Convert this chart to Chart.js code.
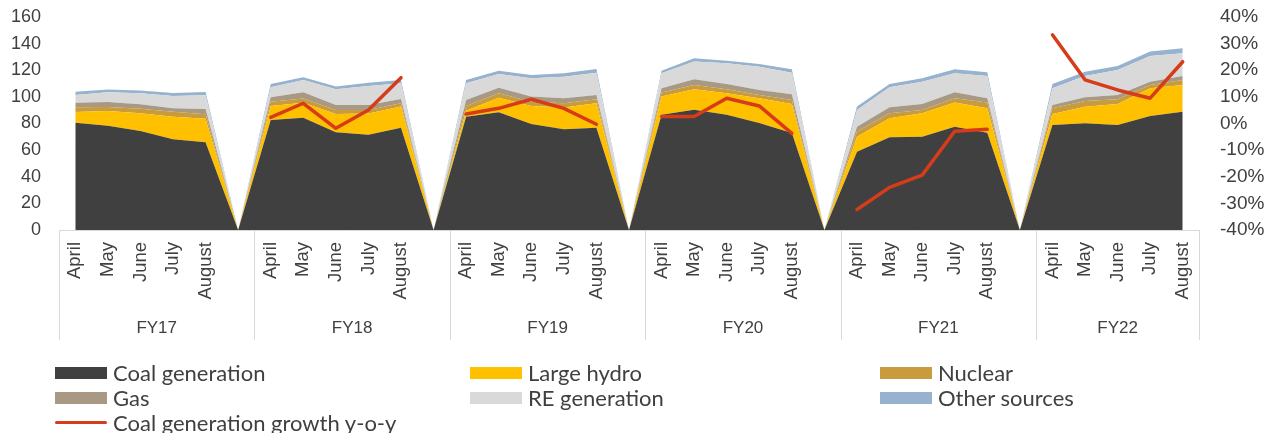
<!DOCTYPE html>
<html>
<head>
<meta charset="utf-8">
<script src="https://cdn.jsdelivr.net/npm/chart.js@4/dist/chart.umd.min.js"></script>
<style>
  html, body { margin: 0; padding: 0; background: #ffffff; }
  #wrap { position: relative; width: 1280px; height: 433px; overflow: hidden; }
  #chart { position: absolute; left: 0; top: 0; }
  #legend {
    position: absolute; left: 0; top: 0; width: 1280px; height: 433px;
    font-family: Lato, "Liberation Sans", sans-serif; font-size: 22px; color: #404040;
  }
  .item { position: absolute; display: flex; align-items: center; height: 25px; white-space: nowrap; }
  .sw { width: 52px; height: 12px; margin-right: 6px; flex: none; }
  .ln { width: 52px; height: 3px; border-radius: 2px; margin-right: 6px; flex: none; }
</style>
</head>
<body>
<div id="wrap">
  <canvas id="chart" width="1280" height="433"></canvas>
  <div id="legend"></div>
</div>
<script>
// Fiscal years and the months shown for each of them
const fiscalYears = ['FY17', 'FY18', 'FY19', 'FY20', 'FY21', 'FY22'];
const months = ['April', 'May', 'June', 'July', 'August'];

// Monthly generation by source (TWh), April–August of each fiscal year
const coal = [
  80.5, 78.3, 74.4, 68.2, 65.9,
  82.6, 84.4, 73.4, 71.6, 76.9,
  85.1, 88.4, 79.6, 75.6, 76.9,
  86.6, 90.4, 86.6, 80.3, 72.8,
  58.8, 69.6, 70.1, 77.6, 73.1,
  78.9, 80.2, 78.9, 85.6, 88.9
];
const hydro = [
  8.2, 11.1, 13.3, 16.9, 17.7,
  10.6, 11.1, 13.7, 16.0, 15.8,
  4.5, 11.0, 13.6, 16.5, 18.3,
  13.6, 15.3, 16.1, 18.6, 21.8,
  11.3, 14.3, 17.6, 18.1, 18.3,
  8.3, 12.4, 15.8, 20.8, 20.0
];
const nuclear = [
  3.5, 3.0, 3.4, 3.8, 3.3,
  3.2, 3.2, 3.0, 2.5, 2.5,
  3.6, 3.3, 3.2, 3.1, 3.0,
  3.0, 3.3, 3.0, 2.5, 3.1,
  3.8, 3.8, 2.5, 3.2, 4.3,
  4.2, 4.3, 3.5, 2.5, 3.8
];
const gas = [
  3.4, 3.8, 3.3, 2.5, 4.0,
  3.3, 4.7, 3.8, 3.8, 3.2,
  4.5, 4.2, 3.8, 3.7, 3.2,
  3.2, 4.2, 4.0, 3.8, 4.2,
  3.7, 4.5, 4.5, 4.5, 3.2,
  2.5, 2.8, 3.2, 2.5, 3.0
];
const reGeneration = [
  5.8, 7.2, 8.3, 9.3, 10.3,
  7.5, 9.3, 11.8, 14.3, 11.8,
  12.5, 10.3, 13.8, 16.3, 16.8,
  11.3, 13.3, 15.5, 17.5, 16.3,
  12.6, 15.0, 16.7, 14.3, 16.8,
  12.5, 16.0, 18.8, 19.3, 17.1
];
const otherSources = [
  2.4, 2.2, 2.0, 2.3, 2.5,
  2.5, 2.0, 2.0, 2.5, 2.5,
  2.5, 2.5, 2.5, 2.5, 2.7,
  2.0, 2.5, 2.0, 2.0, 2.5,
  2.5, 2.5, 2.6, 3.0, 2.8,
  3.3, 3.2, 3.0, 3.3, 3.7
];
// Coal generation growth year-on-year (%)
const coalGrowth = [
  null, null, null, null, null,
  2.3, 7.6, -1.8, 5.1, 17.2,
  3.6, 5.7, 9.1, 5.7, -0.3,
  2.6, 2.6, 9.5, 6.6, -3.7,
  -32.3, -24.0, -19.4, -2.9, -2.2,
  33.3, 16.4, 12.6, 9.5, 23.2
];

// Axis ticks
const leftTicks = { min: 0, max: 160, step: 20 };
const rightTicks = { min: -40, max: 40, step: 10 };

// Category axis: five months per fiscal year with an empty slot between years
const labels = [];
const groupStart = [];
fiscalYears.forEach((fy, f) => {
  groupStart.push(labels.length);
  months.forEach(m => labels.push(m));
  if (f < fiscalYears.length - 1) labels.push('');
});

function spread(values, gapValue) {
  const out = [];
  fiscalYears.forEach((fy, f) => {
    for (let i = 0; i < months.length; i++) out.push(values[f * months.length + i]);
    if (f < fiscalYears.length - 1) out.push(gapValue);
  });
  return out;
}

const areaSeries = [
  { label: 'Coal generation', values: coal, color: '#404040' },
  { label: 'Large hydro', values: hydro, color: '#FFC000' },
  { label: 'Nuclear', values: nuclear, color: '#C89B3C' },
  { label: 'Gas', values: gas, color: '#A79984' },
  { label: 'RE generation', values: reGeneration, color: '#D9D9D9' },
  { label: 'Other sources', values: otherSources, color: '#96B2CE' }
];

const datasets = areaSeries.map((s, i) => ({
  label: s.label,
  data: spread(s.values, 0),
  yAxisID: 'y',
  backgroundColor: s.color,
  borderColor: s.color,
  borderWidth: 0,
  pointRadius: 0,
  fill: i === 0 ? 'origin' : '-1',
  order: 1
}));
datasets.push({
  label: 'Coal generation growth y-o-y',
  data: spread(coalGrowth, null),
  yAxisID: 'y1',
  borderColor: '#D63C1A',
  backgroundColor: '#D63C1A',
  borderWidth: 3.5,
  borderCapStyle: 'round',
  borderJoinStyle: 'round',
  pointRadius: 0,
  fill: false,
  spanGaps: false,
  order: 0
});

const tickFont = { family: '"Liberation Sans", Arial, sans-serif', size: 18 };
const textColor = '#404040';

// Fixed axis widths; the tick padding must not push the plot area down
function fixWidth(width) {
  return scale => {
    scale.width = width;
    scale.paddingTop = 0;
    scale.paddingBottom = 0;
  };
}

// Boxes under the month labels, one per fiscal year, with the year name
const fiscalYearBoxes = {
  id: 'fiscalYearBoxes',
  afterDraw(chart) {
    const xs = chart.scales.x;
    const ctx = chart.ctx;
    const w = (xs.right - xs.left) / labels.length;
    const top = chart.chartArea.bottom;
    const bottom = 340;
    const edges = groupStart.map(i => xs.getPixelForValue(i) - w / 2);
    edges.push(xs.right);
    ctx.save();
    ctx.strokeStyle = '#D9D9D9';
    ctx.lineWidth = 1;
    edges.forEach(x => {
      const px = Math.round(x) + 0.5;
      ctx.beginPath();
      ctx.moveTo(px, top);
      ctx.lineTo(px, bottom);
      ctx.stroke();
    });
    ctx.fillStyle = textColor;
    ctx.font = '17px "Liberation Sans", Arial, sans-serif';
    ctx.textAlign = 'center';
    ctx.textBaseline = 'middle';
    fiscalYears.forEach((fy, f) => {
      ctx.fillText(fy, (edges[f] + edges[f + 1]) / 2, 328);
    });
    ctx.restore();
  }
};

const chart = new Chart(document.getElementById('chart'), {
  type: 'line',
  data: { labels, datasets },
  options: {
    responsive: false,
    animation: false,
    devicePixelRatio: 1,
    layout: { padding: { top: 17, bottom: 93, left: 0, right: 0 } },
    plugins: { legend: { display: false }, tooltip: { enabled: false } },
    elements: { line: { tension: 0 }, point: { radius: 0 } },
    scales: {
      x: {
        type: 'category',
        offset: true,
        grid: { display: false, drawTicks: false },
        border: { display: true, color: '#D9D9D9', width: 1 },
        ticks: {
          autoSkip: false, minRotation: 90, maxRotation: 90, padding: 12,
          color: textColor, font: { family: tickFont.family, size: 18.5 }
        },
        afterFit(scale) { scale.height = 110; }
      },
      y: {
        position: 'left',
        stacked: true,
        min: leftTicks.min, max: leftTicks.max,
        grid: { display: false, drawTicks: false },
        border: { display: false },
        ticks: { stepSize: leftTicks.step, padding: 18, color: textColor, font: tickFont },
        afterFit: fixWidth(59)
      },
      y1: {
        position: 'right',
        min: rightTicks.min, max: rightTicks.max,
        grid: { display: false, drawTicks: false },
        border: { display: false },
        ticks: {
          stepSize: rightTicks.step, padding: 21, color: textColor,
          font: { family: tickFont.family, size: 19 },
          callback: v => v + '%'
        },
        afterFit: fixWidth(81)
      }
    }
  },
  plugins: [fiscalYearBoxes]
});

// Legend in three columns, built from the chart's datasets
const legend = document.getElementById('legend');
const colX = [55, 470, 880];
chart.data.datasets.forEach((ds, i) => {
  const col = i % 3, row = Math.floor(i / 3);
  const item = document.createElement('div');
  item.className = 'item';
  item.style.left = colX[col] + 'px';
  item.style.top = (360 + row * 25) + 'px';
  const mark = document.createElement('span');
  mark.className = ds.fill === false ? 'ln' : 'sw';
  mark.style.background = ds.borderColor;
  const text = document.createElement('span');
  text.textContent = ds.label;
  item.appendChild(mark);
  item.appendChild(text);
  legend.appendChild(item);
});
</script>
</body>
</html>
